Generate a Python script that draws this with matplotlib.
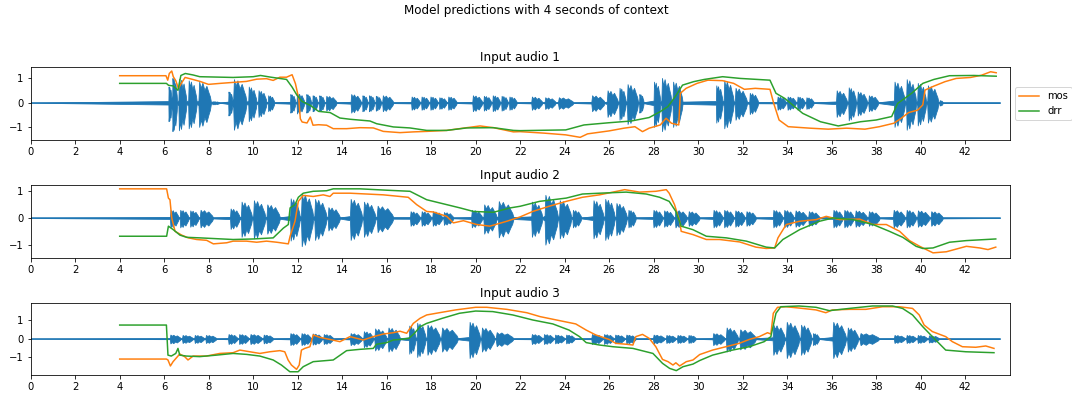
import numpy as np
import matplotlib
matplotlib.use("Agg")
import matplotlib.pyplot as plt

# ---------------- data ----------------
suptitle = "Model predictions with 4 seconds of context"
titles = ["Input audio 1", "Input audio 2", "Input audio 3"]
duration = 43.56          # audio length (s)
x_max = 44.02
xticks = list(range(0, 43, 2))
yticks = [-1, 0, 1]
ylims = [(-1.52, 1.43), (-1.48, 1.20), (-1.96, 1.91)]

# speech bursts in the waveform: (start s, end s, peak amplitude)
bursts1 = [(6.19, 6.34, 0.65), (6.36, 6.58, 1.0), (6.64, 7.0, 0.97), (7.08, 7.46, 0.9),
           (7.54, 8.1, 0.85), (8.15, 8.5, 0.06), (8.88, 9.08, 0.45), (9.1, 9.7, 0.95),
           (9.78, 10.15, 0.65), (10.22, 10.6, 0.5), (10.66, 10.95, 0.3),
           (11.66, 11.9, 0.35), (11.95, 12.3, 0.38), (12.38, 12.6, 0.35), (12.66, 12.9, 0.3),
           (12.96, 13.2, 0.3), (13.26, 13.75, 0.28), (14.38, 14.85, 0.35), (14.9, 15.15, 0.3),
           (15.2, 15.45, 0.3), (15.5, 15.75, 0.28), (15.8, 16.3, 0.3), (17.1, 17.5, 0.25),
           (17.55, 17.9, 0.25), (17.95, 18.3, 0.25), (18.35, 18.7, 0.22), (18.75, 19.15, 0.25),
           (19.85, 20.3, 0.3), (20.35, 20.7, 0.28), (20.75, 21.1, 0.3), (21.15, 21.45, 0.28),
           (21.5, 21.85, 0.25), (22.5, 23.0, 0.25), (23.1, 23.6, 0.22), (23.7, 24.4, 0.22),
           (25.2, 25.8, 0.3), (25.9, 26.4, 0.5), (26.45, 26.75, 0.6), (26.8, 27.3, 0.75),
           (27.35, 27.55, 0.35), (28.0, 28.3, 0.85), (28.35, 28.8, 1.0), (28.85, 29.3, 0.85),
           (30.8, 31.1, 0.7), (31.15, 31.6, 0.9), (31.65, 32.2, 0.6), (32.3, 32.7, 0.4),
           (33.55, 33.95, 0.25), (34.0, 34.4, 0.25), (34.45, 34.8, 0.25), (34.85, 35.2, 0.22),
           (36.2, 36.7, 0.5), (36.75, 37.1, 0.62), (37.15, 37.6, 0.45), (37.65, 38.1, 0.3),
           (38.8, 39.3, 0.85), (39.35, 39.8, 0.95), (39.85, 40.25, 0.8), (40.3, 40.8, 0.7),
           (40.85, 41.0, 0.1)]
bursts2 = [(6.26, 6.65, 0.3), (6.7, 7.1, 0.3), (7.15, 7.55, 0.28), (7.6, 8.2, 0.3),
           (8.96, 9.4, 0.35), (9.45, 9.95, 0.6), (10.0, 10.55, 0.65), (10.6, 11.2, 0.5),
           (11.66, 12.1, 0.72), (12.15, 12.7, 0.9), (12.75, 13.3, 0.7), (13.35, 13.9, 0.4),
           (14.35, 14.9, 0.7), (14.95, 15.5, 0.6), (15.55, 16.3, 0.45),
           (17.05, 17.5, 0.25), (17.55, 18.0, 0.25), (18.05, 18.5, 0.25), (18.55, 19.0, 0.22),
           (19.8, 20.3, 0.3), (20.35, 20.95, 0.5), (21.0, 21.7, 0.62),
           (22.5, 23.0, 0.6), (23.1, 23.7, 0.85), (23.75, 24.3, 0.65), (24.35, 24.75, 0.3),
           (25.27, 25.75, 0.65), (25.8, 26.25, 0.7), (26.3, 26.8, 0.55), (26.85, 27.2, 0.3),
           (27.97, 28.4, 0.3), (28.45, 28.9, 0.28), (28.95, 29.5, 0.3), (29.55, 30.07, 0.25),
           (30.67, 31.1, 0.3), (31.15, 31.6, 0.3), (31.65, 32.1, 0.28), (32.15, 32.6, 0.25),
           (33.36, 33.8, 0.3), (33.85, 34.3, 0.3), (34.35, 34.9, 0.28), (34.95, 35.46, 0.25),
           (36.06, 36.5, 0.3), (36.55, 37.0, 0.3), (37.05, 37.6, 0.28), (37.65, 38.16, 0.25),
           (38.76, 39.3, 0.3), (39.35, 39.8, 0.3), (39.85, 40.4, 0.28), (40.45, 41.0, 0.25)]
bursts3 = [(6.25, 6.75, 0.22), (6.8, 7.3, 0.2), (7.35, 7.8, 0.2), (7.85, 8.35, 0.2),
           (8.87, 9.3, 0.25), (9.35, 9.8, 0.25), (9.85, 10.4, 0.25), (10.45, 10.9, 0.22),
           (11.65, 12.1, 0.3), (12.15, 12.6, 0.3), (12.65, 13.1, 0.28), (13.15, 13.6, 0.25),
           (14.35, 14.9, 0.3), (14.95, 15.4, 0.4), (15.45, 16.0, 0.55), (16.05, 16.6, 0.6),
           (17.0, 17.3, 0.7), (17.35, 17.75, 0.85), (17.8, 18.4, 0.75), (18.45, 19.2, 0.6),
           (19.7, 20.2, 0.9), (20.25, 20.85, 0.6), (20.9, 21.7, 0.35),
           (22.5, 23.0, 0.25), (23.05, 23.5, 0.25), (23.55, 24.0, 0.22), (24.05, 24.45, 0.22),
           (25.2, 25.7, 0.25), (25.75, 26.2, 0.25), (26.25, 26.7, 0.22), (26.75, 27.2, 0.22),
           (27.97, 28.5, 0.22), (28.55, 29.0, 0.2), (29.05, 29.5, 0.2), (29.55, 29.9, 0.2),
           (30.65, 31.2, 0.3), (31.25, 31.8, 0.6), (31.85, 32.6, 0.5),
           (33.35, 33.9, 0.75), (33.95, 34.55, 0.9), (34.6, 35.1, 0.75), (35.15, 35.44, 0.3),
           (36.04, 36.65, 0.9), (36.7, 37.2, 0.6), (37.25, 38.14, 0.3),
           (38.8, 39.3, 0.2), (39.35, 39.8, 0.2), (39.85, 40.3, 0.2), (40.35, 40.83, 0.18)]

# model predictions
mos1_t = [4.0, 6.08, 6.16, 6.23, 6.34, 6.41, 6.52, 6.64, 6.79, 6.94, 7.24, 7.61, 7.99, 8.51, 9.1, 9.7,
          10.16, 10.6, 10.9, 11.2, 11.5, 11.75, 11.9, 12.05, 12.12, 12.2, 12.42, 12.57, 12.69, 12.94,
          13.3, 13.6, 14.2, 14.8, 15.4, 15.85, 16.6, 17.2, 17.8, 18.7, 19.6, 20.2, 20.8, 21.7, 22.0,
          23.07, 24.05, 24.7, 25.03, 26.0, 26.67, 27.16, 27.5, 27.8, 28.3, 28.56, 28.8, 29.13, 29.2,
          29.46, 29.95, 30.44, 31.1, 31.6, 32.08, 32.57, 33.23, 33.4, 33.64, 34.05, 35.03, 35.85,
          36.67, 37.5, 38.15, 38.8, 39.13, 39.46, 39.87, 40.1, 40.2, 40.6, 41.1, 41.6, 42.25, 42.74,
          43.15, 43.4]
mos1_v = [1.09, 1.09, 0.91, 1.18, 1.28, 1.05, 0.89, 0.58, 0.81, 1.02, 0.95, 0.86, 0.74, 0.78, 0.82, 0.86,
          0.95, 0.97, 0.90, 1.03, 1.03, 1.13, 0.77, 0.16, -0.65, -0.78, -0.82, -0.58, -0.91, -0.89,
          -0.91, -1.05, -1.05, -1.01, -1.02, -1.16, -1.21, -1.18, -1.16, -1.12, -1.01, -0.94, -1.01,
          -1.18, -1.17, -1.23, -1.30, -1.40, -1.26, -1.14, -1.03, -0.97, -1.17, -1.03, -0.90, -0.63,
          -0.83, -0.90, 0.38, 0.58, 0.78, 0.91, 0.89, 0.78, 0.54, 0.58, 0.54, -0.03, -0.70, -0.97,
          -1.03, -1.07, -1.03, -1.07, -0.97, -0.83, -0.63, -0.40, -0.30, -0.09, 0.51, 0.67, 0.85,
          0.98, 1.02, 1.11, 1.25, 1.21]
drr1_t = [4.0, 6.1, 6.2, 6.4, 6.62, 6.75, 6.95, 7.3, 7.6, 9.1, 10.0, 10.33, 10.8, 11.5, 11.75, 11.97,
          12.2, 12.57, 12.94, 13.46, 13.9, 14.36, 15.25, 15.55, 16.3, 17.04, 17.8, 18.7, 19.6, 20.8,
          21.7, 22.0, 24.05, 24.87, 26.0, 27.0, 27.8, 28.3, 28.64, 28.97, 29.3, 29.8, 30.28, 31.1,
          31.9, 33.23, 33.5, 33.9, 34.7, 35.5, 36.3, 37.3, 38.0, 38.7, 38.97, 39.6, 40.1, 40.6, 41.3,
          42.4, 43.4]
drr1_v = [0.78, 0.78, 0.70, 0.68, 0.50, 1.10, 1.18, 1.12, 1.05, 1.02, 1.05, 1.10, 1.03, 0.94, 0.63,
          0.30, 0.05, -0.11, -0.35, -0.40, -0.62, -0.67, -0.74, -0.85, -0.98, -1.02, -1.12, -1.12,
          -1.02, -1.01, -1.12, -1.13, -1.10, -0.90, -0.81, -0.74, -0.60, -0.36, -0.16, 0.24, 0.71,
          0.85, 0.94, 1.05, 0.98, 0.91, 0.38, 0.17, -0.43, -0.77, -0.94, -0.77, -0.70, -0.56, -0.03,
          0.38, 0.78, 0.94, 1.09, 1.10, 1.07]

mos2_t = [4.0, 6.11, 6.19, 6.26, 6.34, 6.49, 6.79, 7.09, 7.46, 7.91, 8.21, 8.81, 9.1, 9.7, 10.16,
          10.6, 11.06, 11.58, 11.66, 11.88, 12.03, 12.25, 12.7, 13.15, 13.45, 13.6, 14.35, 15.1,
          15.85, 16.6, 16.97, 17.35, 17.8, 18.1, 18.7, 19.0, 19.45, 20.05, 20.64, 21.4, 22.0, 22.57,
          23.3, 24.07, 24.8, 25.57, 26.17, 26.7, 27.37, 28.1, 28.57, 28.7, 28.94, 29.17, 29.24,
          29.77, 30.37, 30.97, 31.87, 32.6, 33.06, 33.44, 33.59, 33.96, 34.56, 35.3, 35.76, 36.36,
          37.26, 37.86, 38.46, 39.06, 39.5, 39.96, 40.56, 41.16, 42.06, 42.66, 43.03, 43.38]
mos2_v = [1.07, 1.07, 0.73, 0.67, 0.0, -0.49, -0.63, -0.73, -0.79, -0.82, -0.95, -0.91, -0.85, -0.85,
          -0.89, -0.85, -0.89, -0.95, -0.67, -0.12, 0.61, 0.83, 0.79, 0.85, 0.79, 0.91, 0.91, 0.88,
          0.85, 0.79, 0.76, 0.49, 0.24, 0.22, 0.06, -0.18, -0.10, -0.24, -0.30, -0.12, 0.04, 0.24,
          0.43, 0.61, 0.76, 0.85, 0.95, 1.04, 0.95, 0.98, 1.04, 0.91, 0.49, -0.12, -0.49, -0.61,
          -0.79, -0.79, -0.88, -1.07, -1.12, -1.10, -0.73, -0.24, -0.12, -0.06, 0.06, -0.06, -0.04,
          -0.24, -0.24, -0.49, -0.83, -1.04, -1.28, -1.24, -1.04, -1.10, -1.16, -1.07]
drr2_t = [4.0, 6.11, 6.19, 6.41, 6.71, 7.01, 7.61, 9.1, 10.0, 10.9, 11.36, 11.58, 11.66, 11.88, 12.03,
          12.25, 12.7, 13.3, 13.6, 14.8, 16.0, 17.05, 17.8, 18.4, 19.3, 19.9, 20.8, 21.55, 22.0,
          22.87, 24.07, 24.8, 25.57, 26.77, 27.67, 28.27, 28.7, 29.0, 29.24, 29.77, 30.37, 31.27,
          32.17, 33.06, 33.44, 33.81, 34.56, 35.46, 36.06, 36.96, 37.86, 38.6, 39.2, 39.8, 40.1,
          40.56, 41.3, 42.06, 43.38]
drr2_v = [-0.67, -0.67, -0.30, -0.43, -0.63, -0.71, -0.73, -0.79, -0.77, -0.73, -0.37, -0.24, 0.37,
          0.49, 0.76, 0.91, 0.98, 1.0, 1.07, 1.07, 1.02, 0.98, 0.67, 0.55, 0.37, 0.24, 0.21, 0.37,
          0.43, 0.61, 0.73, 0.88, 0.91, 0.95, 0.88, 0.76, 0.61, 0.24, -0.30, -0.43, -0.67, -0.73,
          -0.85, -1.07, -1.10, -0.79, -0.43, -0.12, 0.0, -0.06, -0.24, -0.49, -0.71, -1.04, -1.12,
          -1.10, -0.89, -0.83, -0.77]

mos3_t = [4.0, 6.1, 6.17, 6.28, 6.4, 6.7, 6.92, 7.07, 7.3, 7.9, 8.5, 9.1, 9.4, 9.85, 10.3, 10.75,
          11.2, 11.42, 11.57, 11.72, 11.95, 12.07, 12.17, 12.32, 12.55, 12.7, 13.0, 13.45, 13.9,
          14.35, 14.95, 15.4, 15.85, 16.3, 16.6, 16.9, 17.2, 17.5, 17.8, 18.37, 19.1, 20.0, 20.5,
          21.4, 22.3, 22.9, 23.8, 24.5, 24.97, 25.4, 26.0, 26.3, 26.8, 27.07, 27.2, 27.5, 27.8, 28.1,
          28.4, 28.65, 28.87, 29.0, 29.17, 29.47, 29.77, 30.07, 30.65, 31.25, 31.85, 32.3, 32.75,
          33.12, 33.27, 33.38, 33.57, 33.95, 34.54, 35.3, 35.74, 36.04, 36.8, 37.54, 38.29, 39.04,
          39.64, 39.94, 40.16, 40.53, 41.13, 41.43, 41.88, 42.48, 42.93, 43.3]
mos3_v = [-1.09, -1.09, -1.14, -1.46, -1.23, -0.82, -0.96, -1.14, -0.93, -0.93, -0.79, -0.75, -0.61,
          -0.70, -0.79, -0.70, -0.64, -0.70, -1.14, -1.41, -1.64, -1.41, -0.61, -0.52, -0.43, 0.20,
          0.07, -0.04, -0.16, 0.11, -0.07, 0.11, 0.25, 0.32, 0.40, 0.29, 0.82, 1.09, 1.27, 1.39,
          1.54, 1.68, 1.68, 1.57, 1.39, 1.18, 0.96, 0.79, 0.46, 0.20, -0.04, -0.25, -0.30, -0.34,
          0.11, 0.23, 0.02, -0.43, -1.11, -1.23, -1.41, -1.29, -1.46, -1.23, -1.14, -0.85, -0.61,
          -0.43, -0.25, -0.04, 0.11, 0.32, 0.25, 1.36, 1.68, 1.71, 1.64, 1.54, 1.39, 1.54, 1.57,
          1.57, 1.71, 1.71, 1.62, 1.27, 0.73, 0.38, 0.11, -0.16, -0.43, -0.46, -0.39, -0.52]
drr3_t = [4.0, 6.1, 6.17, 6.32, 6.52, 6.62, 6.7, 7.0, 7.6, 8.35, 9.1, 9.7, 10.3, 10.9, 11.27, 11.65,
          12.02, 12.25, 12.7, 13.6, 14.2, 14.8, 15.4, 15.54, 16.0, 16.3, 16.6, 17.0, 17.25, 17.5,
          17.8, 18.5, 19.27, 20.0, 20.77, 21.67, 22.57, 23.47, 24.2, 24.67, 24.97, 25.57, 26.17,
          27.07, 27.97, 28.4, 28.72, 29.02, 29.32, 29.77, 30.07, 30.65, 31.55, 32.3, 32.97, 33.27,
          33.5, 33.72, 34.54, 35.3, 35.9, 36.8, 37.84, 38.74, 39.19, 39.64, 40.1, 40.53, 41.13,
          42.03, 43.3]
drr3_v = [0.73, 0.73, -0.88, -0.93, -0.79, -0.52, -0.88, -0.93, -0.96, -0.88, -0.79, -0.84, -0.93,
          -1.14, -1.41, -1.77, -1.77, -1.50, -1.23, -1.14, -0.64, -0.57, -0.52, -0.30, -0.21, -0.07,
          -0.04, 0.02, 0.29, 0.64, 0.82, 1.09, 1.36, 1.48, 1.45, 1.27, 1.0, 0.79, 0.46, 0.11, -0.21,
          -0.34, -0.43, -0.52, -0.79, -1.32, -1.59, -1.71, -1.50, -1.36, -1.17, -0.88, -0.61, -0.43,
          -0.16, 0.11, 1.36, 1.71, 1.75, 1.68, 1.50, 1.62, 1.75, 1.75, 1.62, 1.27, 0.64, 0.11,
          -0.61, -0.70, -0.75]

# ---------------- drawing ----------------
# shape of one speech burst (fraction of burst length, fraction of peak)
shape_f = [0.0, 0.06, 0.18, 0.32, 0.48, 0.64, 0.8, 0.92, 1.0]
shape_a = [0.1, 1.0, 0.7, 0.95, 0.6, 0.8, 0.5, 0.3, 0.05]
neg_scale = 1.15   # negative excursions of the waveform are a little deeper


def envelope(bursts):
    ts, amps = [0.0], [0.0]
    for s, e, p in bursts:
        for f, r in zip(shape_f, shape_a):
            ts.append(s + f * (e - s))
            amps.append(p * r)
    ts.append(duration)
    amps.append(0.0)
    return np.array(ts), np.array(amps)


W, H = 1072, 393
fig = plt.figure(figsize=(W / 72, H / 72), dpi=72)
left, right = 30.7 / W, 1010 / W
boxes = [(67.3, 140.3), (185.3, 258.3), (303.0, 375.3)]

panels = [(bursts1, mos1_t, mos1_v, drr1_t, drr1_v),
          (bursts2, mos2_t, mos2_v, drr2_t, drr2_v),
          (bursts3, mos3_t, mos3_v, drr3_t, drr3_v)]

axes = []
for i, (bursts, mt, mv, dt, dv) in enumerate(panels):
    top_px, bot_px = boxes[i]
    ax = fig.add_axes([left, 1 - bot_px / H, right - left, (bot_px - top_px) / H])
    t, a = envelope(bursts)
    ax.fill_between(t, -a * neg_scale, a, color="C0", lw=0.8)
    ax.plot(t, np.zeros_like(t), color="C0")
    ax.plot(mt, mv, color="C1", label="mos")
    ax.plot(dt, dv, color="C2", label="drr")
    ax.set_xlim(0, x_max)
    ax.set_ylim(*ylims[i])
    ax.set_xticks(xticks)
    ax.set_yticks(yticks)
    ax.set_title(titles[i])
    axes.append(ax)

axes[0].legend(loc="center left", bbox_to_anchor=(1.0, 0.5))
fig.suptitle(suptitle, y=0.99)
fig.savefig("out.png", dpi=72)
